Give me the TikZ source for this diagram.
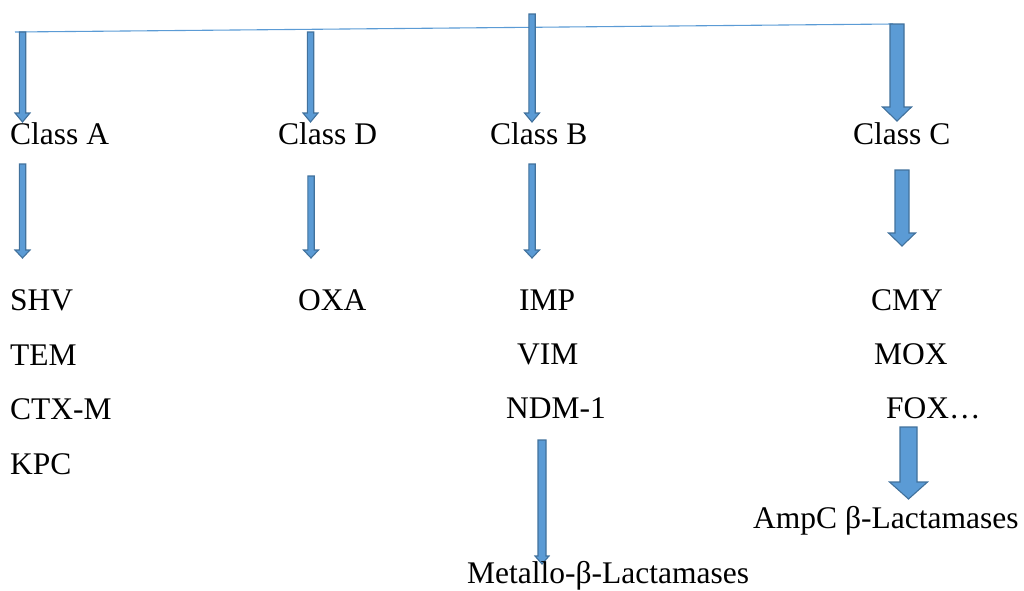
\documentclass[tikz,border=0pt]{standalone}
\usepackage{fontspec}
\setmainfont{Liberation Serif}
\definecolor{afill}{HTML}{5B9BD5}
\definecolor{aline}{HTML}{41719C}
\newcommand\blockarrow[6]{% x, ytop, ytip, shaft half-width, head half-width, head length
  \draw[barrow] (#1-#4,#2) -- (#1+#4,#2) -- (#1+#4,#3-#6) -- (#1+#5,#3-#6) -- (#1,#3)
    -- (#1-#5,#3-#6) -- (#1-#4,#3-#6) -- cycle;}
\begin{document}
\begin{tikzpicture}[x=1pt,y=-1pt,
  lbl/.style={anchor=base west,inner sep=0pt,font=\fontsize{31.5}{36}\selectfont},
  barrow/.style={fill=afill,draw=aline,line width=1.1pt,line join=miter},
  hline/.style={draw=afill,line width=1.1pt}]
\useasboundingbox (0,0) rectangle (1024,590);
% top line
\coordinate (L) at (15,32);
\coordinate (R) at (893,24);
\draw[hline] (L) -- (R);
% arrows top
\blockarrow{22.5}{32}{122}{3.2}{7.5}{9}
\blockarrow{310.5}{32}{122}{3.2}{7.5}{9}
\blockarrow{532}{14}{122}{3.2}{7.5}{9}
\blockarrow{897}{24}{121}{7}{14.5}{14}
% labels
\node[lbl] (ca) at (10,144) {Class A};
\node[lbl] (cd) at (278,144) {Class D};
\node[lbl] (cb) at (490,144) {Class B};
\node[lbl] (cc) at (853,144) {Class C};
% arrows middle
\blockarrow{22.5}{164}{258}{3.2}{7.5}{8}
\blockarrow{311}{176}{258}{3.2}{7.5}{8}
\blockarrow{532}{164}{258}{3.2}{7.5}{8}
\blockarrow{902}{170}{246}{7}{13.5}{13}
% lists
\node[lbl] (shv) at (10,310) {SHV};
\node[lbl] (tem) at (10,365) {TEM};
\node[lbl] (ctx) at (10,419) {CTX-M};
\node[lbl] (kpc) at (10,474) {KPC};
\node[lbl] (oxa) at (298,310) {OXA};
\node[lbl] (imp) at (519,310) {IMP};
\node[lbl] (vim) at (517,364) {VIM};
\node[lbl] (ndm) at (506,418) {NDM-1};
\node[lbl] (cmy) at (871,310) {CMY};
\node[lbl] (mox) at (874,364) {MOX};
\node[lbl] (fox) at (886,418) {FOX…};
% bottom arrows
\blockarrow{542}{440}{564}{4}{7}{8}
\blockarrow{908.5}{427}{499}{8.5}{19}{17}
\node[lbl] (ampc) at (753,528) {AmpC β-Lactamases};
\node[lbl] (mbl) at (467,583) {Metallo-β-Lactamases};
\end{tikzpicture}
\end{document}
